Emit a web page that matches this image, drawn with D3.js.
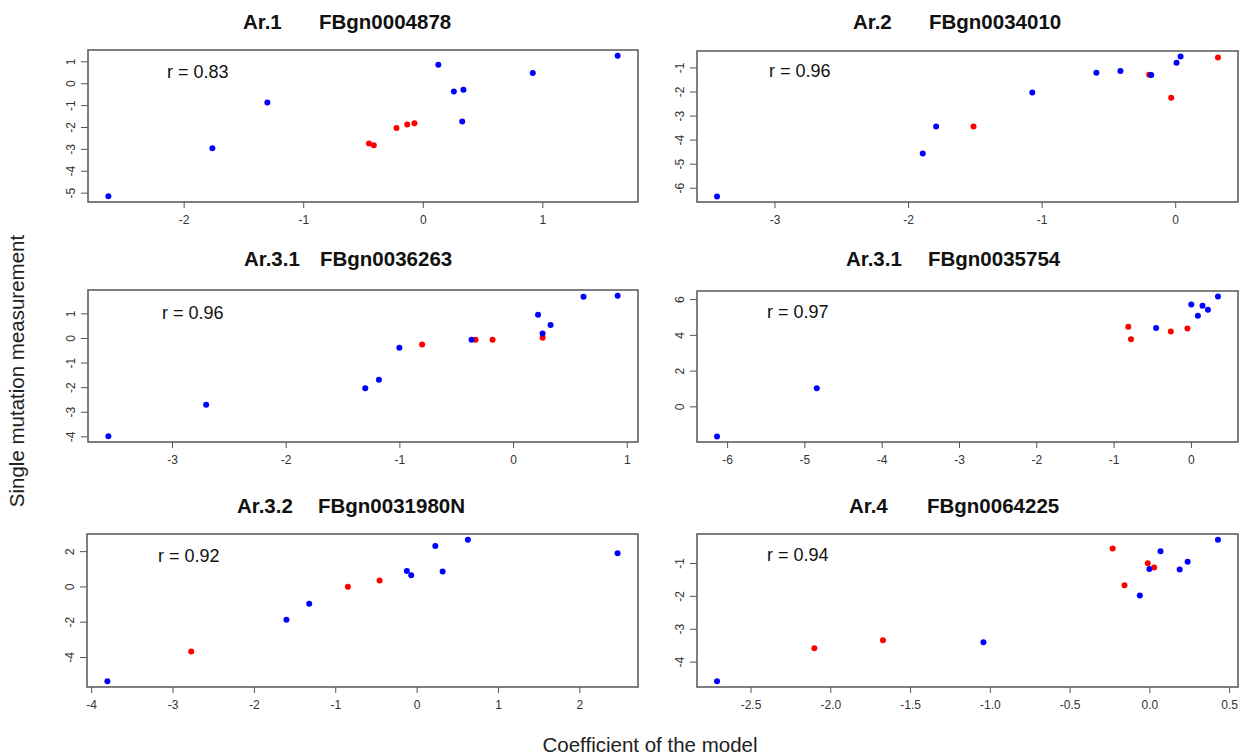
<!DOCTYPE html>
<html>
<head>
<meta charset="utf-8">
<script src="https://cdn.jsdelivr.net/npm/d3@7"></script>
<style>
  html, body { margin: 0; padding: 0; background: #fff; }
  svg { display: block; }
  text { font-family: "Liberation Sans", Arial, sans-serif; }
</style>
</head>
<body>
<svg id="chart" width="1248" height="756"></svg>
<script>
// ---- Data: one set of arrays per gene panel (blue = measured, red = predicted group) ----
const ar1BlueX = [-2.63, -1.76, -1.30, 0.13, 0.26, 0.34, 0.33, 0.92, 1.63];
const ar1BlueY = [-5.17, -2.97, -0.88, 0.84, -0.38, -0.30, -1.75, 0.47, 1.26];
const ar1RedX  = [-0.45, -0.41, -0.22, -0.13, -0.07];
const ar1RedY  = [-2.75, -2.83, -2.05, -1.89, -1.83];

const ar2BlueX = [-3.43, -1.89, -1.79, -1.07, -0.59, -0.41, -0.18, 0.01, 0.04];
const ar2BlueY = [-6.36, -4.58, -3.45, -2.04, -1.22, -1.15, -1.32, -0.81, -0.55];
const ar2RedX  = [-1.51, -0.195, -0.03, 0.32];
const ar2RedY  = [-3.45, -1.30, -2.26, -0.59];

const ar31aBlueX = [-3.56, -2.70, -1.30, -1.18, -1.00, -0.365, 0.22, 0.26, 0.33, 0.62, 0.92];
const ar31aBlueY = [-4.00, -2.71, -2.04, -1.70, -0.40, -0.07, 0.94, 0.18, 0.53, 1.67, 1.72];
const ar31aRedX  = [-0.80, -0.33, -0.18, 0.26];
const ar31aRedY  = [-0.27, -0.07, -0.07, 0.01];

const ar31bBlueX = [-6.13, -4.84, -0.45, 0.005, 0.09, 0.15, 0.22, 0.35];
const ar31bBlueY = [-1.68, 1.01, 4.39, 5.70, 5.07, 5.63, 5.41, 6.14];
const ar31bRedX  = [-0.81, -0.775, -0.26, -0.045];
const ar31bRedY  = [4.46, 3.75, 4.19, 4.35];

const ar32BlueX = [-3.80, -1.60, -1.32, -0.12, -0.066, 0.23, 0.32, 0.63, 2.47];
const ar32BlueY = [-5.38, -1.89, -0.98, 0.87, 0.64, 2.29, 0.85, 2.65, 1.88];
const ar32RedX  = [-2.77, -0.845, -0.455];
const ar32RedY  = [-3.69, -0.02, 0.34];

const ar4BlueX = [-2.71, -1.04, -0.06, 0.0, 0.07, 0.19, 0.24, 0.43];
const ar4BlueY = [-4.60, -3.41, -1.99, -1.18, -0.64, -1.20, -0.96, -0.29];
const ar4RedX  = [-2.10, -1.67, -0.23, -0.156, -0.01, 0.03];
const ar4RedY  = [-3.59, -3.35, -0.56, -1.68, -1.01, -1.14];

// Panel headings and correlation labels
const panelArms  = ["Ar.1", "Ar.2", "Ar.3.1", "Ar.3.1", "Ar.3.2", "Ar.4"];
const panelGenes = ["FBgn0004878", "FBgn0034010", "FBgn0036263", "FBgn0035754", "FBgn0031980N", "FBgn0064225"];
const panelR     = ["0.83", "0.96", "0.96", "0.97", "0.92", "0.94"];

// Tick values per panel
const xTicks = [
  [-2, -1, 0, 1],
  [-3, -2, -1, 0],
  [-3, -2, -1, 0, 1],
  [-6, -5, -4, -3, -2, -1, 0],
  [-4, -3, -2, -1, 0, 1, 2],
  [-2.5, -2.0, -1.5, -1.0, -0.5, 0.0, 0.5]
];
const yTicks = [
  [-5, -4, -3, -2, -1, 0, 1],
  [-6, -5, -4, -3, -2, -1],
  [-4, -3, -2, -1, 0, 1],
  [0, 2, 4, 6],
  [-4, -2, 0, 2],
  [-4, -3, -2, -1]
];
const xTickFormats = ["d", "d", "d", "d", "d", ".1f"];

const axisTitleX = "Coefficient of the model";
const axisTitleY = "Single mutation measurement";

// ---- Layout ----
const boxes = [
  { l: 88,  r: 638,  t: 50,  b: 202 },
  { l: 697, r: 1238, t: 51,  b: 202 },
  { l: 88,  r: 638,  t: 290, b: 442 },
  { l: 697, r: 1238, t: 291, b: 442 },
  { l: 87,  r: 638,  t: 534, b: 687 },
  { l: 697, r: 1238, t: 534, b: 687 }
];
const titlePos = [
  { arm: 243, gene: 319, y: 29 },
  { arm: 853, gene: 929, y: 29 },
  { arm: 244, gene: 320, y: 266 },
  { arm: 846, gene: 928, y: 266 },
  { arm: 237, gene: 318, y: 513 },
  { arm: 849, gene: 927, y: 513 }
];
const rPos = [
  { x: 167, y: 78 },
  { x: 769, y: 77 },
  { x: 162, y: 319 },
  { x: 767, y: 318 },
  { x: 158, y: 562 },
  { x: 767, y: 561 }
];

const panels = [
  { bx: ar1BlueX,   by: ar1BlueY,   rx: ar1RedX,   ry: ar1RedY },
  { bx: ar2BlueX,   by: ar2BlueY,   rx: ar2RedX,   ry: ar2RedY },
  { bx: ar31aBlueX, by: ar31aBlueY, rx: ar31aRedX, ry: ar31aRedY },
  { bx: ar31bBlueX, by: ar31bBlueY, rx: ar31bRedX, ry: ar31bRedY },
  { bx: ar32BlueX,  by: ar32BlueY,  rx: ar32RedX,  ry: ar32RedY },
  { bx: ar4BlueX,   by: ar4BlueY,   rx: ar4RedX,   ry: ar4RedY }
];

const svg = d3.select("#chart");

// Axis range padded by 4% on each side of the data extent
function paddedDomain(values) {
  const [lo, hi] = d3.extent(values);
  const pad = (hi - lo) * 0.04;
  return [lo - pad, hi + pad];
}

panels.forEach((p, i) => {
  const box = boxes[i];
  const xs = p.bx.concat(p.rx);
  const ys = p.by.concat(p.ry);
  const x = d3.scaleLinear().domain(paddedDomain(xs)).range([box.l, box.r]);
  const y = d3.scaleLinear().domain(paddedDomain(ys)).range([box.b, box.t]);

  const g = svg.append("g");

  // x axis
  const xAxis = d3.axisBottom(x)
    .tickValues(xTicks[i])
    .tickFormat(d3.format(xTickFormats[i]))
    .tickSizeOuter(0)
    .tickSize(6)
    .tickPadding(7);
  const gx = g.append("g").attr("transform", `translate(0,${box.b})`).call(xAxis);
  gx.select(".domain").remove();
  gx.selectAll(".tick line").attr("stroke", "#555").attr("stroke-width", 1);
  gx.selectAll("text").attr("font-size", 12).attr("fill", "#333")
    .text(d => d3.format(xTickFormats[i])(d).replace("−", "-"));

  // y axis with labels turned parallel to the axis
  const yAxis = d3.axisLeft(y)
    .tickValues(yTicks[i])
    .tickSizeOuter(0)
    .tickSize(7)
    .tickPadding(0);
  const gy = g.append("g").attr("transform", `translate(${box.l},0)`).call(yAxis);
  gy.select(".domain").remove();
  gy.selectAll(".tick line").attr("stroke", "#555").attr("stroke-width", 1);
  gy.selectAll("text")
    .attr("font-size", 12).attr("fill", "#333")
    .attr("x", null).attr("dy", null)
    .attr("text-anchor", "middle")
    .attr("transform", "translate(-13,0) rotate(-90)")
    .text(d => String(d).replace("−", "-"));

  // frame
  g.append("rect")
    .attr("x", box.l).attr("y", box.t)
    .attr("width", box.r - box.l).attr("height", box.b - box.t)
    .attr("fill", "none").attr("stroke", "#555").attr("stroke-width", 1.5);

  // points
  const blue = d3.zip(p.bx, p.by);
  const red = d3.zip(p.rx, p.ry);
  g.selectAll("circle.red").data(red).join("circle")
    .attr("class", "red")
    .attr("cx", d => x(d[0])).attr("cy", d => y(d[1]))
    .attr("r", 3).attr("fill", "#ff0000");
  g.selectAll("circle.blue").data(blue).join("circle")
    .attr("class", "blue")
    .attr("cx", d => x(d[0])).attr("cy", d => y(d[1]))
    .attr("r", 3).attr("fill", "#0000ff");

  // heading
  const tp = titlePos[i];
  g.append("text").attr("x", tp.arm).attr("y", tp.y)
    .attr("font-size", 20.5).attr("font-weight", "bold").attr("fill", "#111")
    .text(panelArms[i]);
  g.append("text").attr("x", tp.gene).attr("y", tp.y)
    .attr("font-size", 20.5).attr("font-weight", "bold").attr("fill", "#111")
    .text(panelGenes[i]);

  // correlation label
  g.append("text").attr("x", rPos[i].x).attr("y", rPos[i].y)
    .attr("font-size", 18).attr("fill", "#111")
    .text("r = " + panelR[i]);
});

// shared axis titles
svg.append("text")
  .attr("x", 650).attr("y", 752)
  .attr("text-anchor", "middle")
  .attr("font-size", 20.5).attr("fill", "#222")
  .text(axisTitleX);

svg.append("text")
  .attr("transform", "translate(24,371) rotate(-90)")
  .attr("text-anchor", "middle")
  .attr("font-size", 20.5).attr("fill", "#222")
  .text(axisTitleY);
</script>
</body>
</html>
